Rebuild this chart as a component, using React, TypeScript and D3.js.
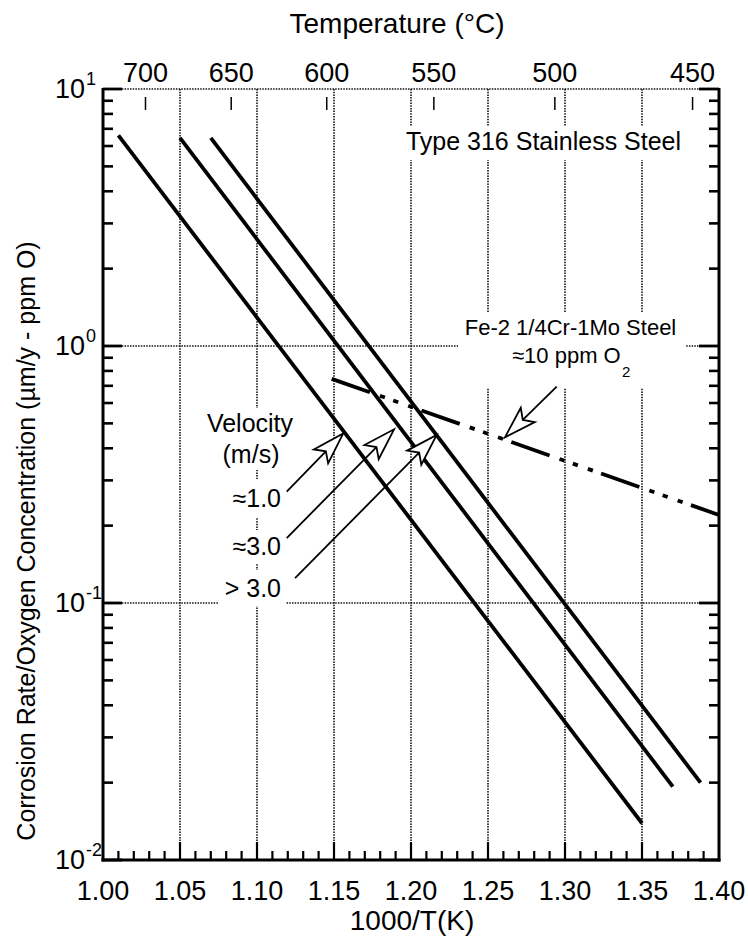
import React from 'react';
import * as d3 from 'd3';

// ---- data ----
const xTickValues = [1.0, 1.05, 1.1, 1.15, 1.2, 1.25, 1.3, 1.35, 1.4];
const xTickLabels = ['1.00', '1.05', '1.10', '1.15', '1.20', '1.25', '1.30', '1.35', '1.40'];
const yDecades = [0.01, 0.1, 1, 10];
const yExponents = ['-2', '-1', '0', '1'];
const tempTicksC = [700, 650, 600, 550, 500, 450];

const seriesNames = ['≈1.0', '≈3.0', '> 3.0'];
const seriesX0 = [1.01, 1.05, 1.07];
const seriesY0 = [6.6, 6.45, 6.45];
const seriesX1 = [1.35, 1.37, 1.388];
const seriesY1 = [0.0139, 0.0193, 0.02];

const feX = [1.1485, 1.4];
const feY = [0.745, 0.22];

const arrowTipX = [1.156, 1.189, 1.2167];
const arrowTipY = [0.457, 0.474, 0.451];
const arrowTailX = [1.1193, 1.1193, 1.1247];
const arrowTailY = [0.271, 0.179, 0.125];
const feArrowTip = [1.261, 0.441];
const feArrowTail = [1.2946, 0.695];

const FONT = "'Liberation Sans', Arial, Helvetica, sans-serif";

const W = 748;
const H = 942;
const L = 103, R = 719, T = 89, B = 860;

export default function App() {
  const x = d3.scaleLinear().domain([1.0, 1.4]).range([L, R]);
  const y = d3.scaleLog().domain([0.01, 10]).range([B, T]);

  const minorY: number[] = [];
  for (let e = -2; e < 1; e++) {
    for (let m = 2; m <= 9; m++) minorY.push(m * Math.pow(10, e));
  }
  const minorX: number[] = d3.range(1, 40).map((i) => 1 + i * 0.01).filter((v) => Math.abs(v * 20 - Math.round(v * 20)) > 1e-6);
  const gridX = xTickValues.slice(1, -1);
  const gridY = [1, 0.1, 10];

  const line = d3.line<[number, number]>().x((d) => x(d[0])).y((d) => y(d[1]));

  const arrow = (tx: number, ty: number, sx: number, sy: number, key: string) => {
    const dx = tx - sx, dy = ty - sy;
    const len = Math.hypot(dx, dy);
    const ux = dx / len, uy = dy / len;
    const nx = -uy, ny = ux;
    const hl = 32, hw = 10, notch = 25;
    const b1 = [tx - ux * hl + nx * hw, ty - uy * hl + ny * hw];
    const b2 = [tx - ux * hl - nx * hw, ty - uy * hl - ny * hw];
    const nt = [tx - ux * notch, ty - uy * notch];
    return (
      <g key={key}>
        <line x1={sx} y1={sy} x2={nt[0]} y2={nt[1]} stroke="#000" strokeWidth={1.8} />
        <path d={`M${tx},${ty}L${b1[0]},${b1[1]}L${nt[0]},${nt[1]}L${b2[0]},${b2[1]}Z`} fill="#fff" stroke="#000" strokeWidth={1.8} strokeLinejoin="miter" />
      </g>
    );
  };

  const gridStyle = { stroke: '#111', strokeWidth: 1.6, strokeDasharray: '1.5,1.2' };

  return (
    <svg width={W} height={H} style={{ position: 'absolute', left: 0, top: 0, background: '#fff' }} fontFamily={FONT}>
      <rect x={0} y={0} width={W} height={H} fill="#fff" />
      {/* grid */}
      {gridX.map((v) => (
        <line key={'gx' + v} x1={x(v)} x2={x(v)} y1={T} y2={B} {...gridStyle} />
      ))}
      {gridY.map((v) => (
        <line key={'gy' + v} x1={L} x2={R} y1={y(v)} y2={y(v)} {...gridStyle} />
      ))}

      {/* white label backgrounds */}
      <rect x={400} y={126} width={288} height={34} fill="#fff" />
      <rect x={458} y={313} width={227} height={75} fill="#fff" />
      <rect x={200} y={408} width={98} height={62} fill="#fff" />
      <rect x={222} y={479} width={64} height={38} fill="#fff" />
      <rect x={222} y={530} width={64} height={33} fill="#fff" />
      <rect x={218} y={570} width={68} height={36} fill="#fff" />

      {/* axes */}
      <line x1={L} x2={L} y1={T - 1} y2={B + 1.5} stroke="#000" strokeWidth={3} />
      <line x1={R} x2={R} y1={T - 1} y2={B + 1.5} stroke="#000" strokeWidth={3} />
      <line x1={L - 1.5} x2={R + 1.5} y1={B} y2={B} stroke="#000" strokeWidth={3} />

      {/* y ticks */}
      {yDecades.map((v) => (
        <g key={'yt' + v}>
          <line x1={L} x2={L + 19} y1={y(v)} y2={y(v)} stroke="#000" strokeWidth={2.8} />
          <line x1={R} x2={R - 20} y1={y(v)} y2={y(v)} stroke="#000" strokeWidth={2.8} />
        </g>
      ))}
      {minorY.map((v) => (
        <g key={'ym' + v}>
          <line x1={L} x2={L + 10} y1={y(v)} y2={y(v)} stroke="#000" strokeWidth={2.6} />
          <line x1={R} x2={R - 10} y1={y(v)} y2={y(v)} stroke="#000" strokeWidth={2.6} />
        </g>
      ))}
      {/* x ticks */}
      {gridX.map((v) => (
        <line key={'xt' + v} x1={x(v)} x2={x(v)} y1={B} y2={B - 18} stroke="#000" strokeWidth={2.2} />
      ))}
      {minorX.map((v) => (
        <line key={'xm' + v} x1={x(v)} x2={x(v)} y1={B} y2={B - 9} stroke="#000" strokeWidth={2.2} />
      ))}

      {/* temperature ticks */}
      {tempTicksC.map((t) => {
        const xv = x(1000 / (t + 273.15));
        return (
          <g key={'tc' + t}>
            <line x1={xv} x2={xv} y1={97} y2={110} stroke="#000" strokeWidth={1.5} />
            <text x={xv} y={82} fontSize={27} textAnchor="middle">{t}</text>
          </g>
        );
      })}

      {/* x tick labels */}
      {xTickValues.map((v, i) => (
        <text key={'xl' + v} x={x(v)} y={900} fontSize={27} textAnchor="middle">{xTickLabels[i]}</text>
      ))}
      {/* y tick labels */}
      {yDecades.map((v, i) => (
        <g key={'yl' + v}>
          <text x={85} y={y(v) + 9} fontSize={27} textAnchor="end">10</text>
          <text x={86} y={y(v) - 4} fontSize={18} textAnchor="start">{yExponents[i]}</text>
        </g>
      ))}

      {/* axis titles */}
      <text x={397} y={33} fontSize={28} textAnchor="middle">Temperature (°C)</text>
      <text x={412} y={930} fontSize={28} textAnchor="middle">1000/T(K)</text>
      <text transform={`translate(35,541) rotate(-90)`} fontSize={25} textAnchor="middle">
        Corrosion Rate/Oxygen Concentration (µm/y - ppm O)
      </text>

      {/* velocity lines */}
      {seriesNames.map((n, i) => (
        <path
          key={'s' + i}
          d={line([[seriesX0[i], seriesY0[i]], [seriesX1[i], seriesY1[i]]]) || ''}
          stroke="#000"
          strokeWidth={3.8}
          fill="none"
        />
      ))}

      {/* Fe line */}
      <path
        d={line([[feX[0], feY[0]], [feX[1], feY[1]]]) || ''}
        stroke="#000"
        strokeWidth={3.8}
        fill="none"
        strokeDasharray="40.5,10.6,5.3,8.8,5.3,10.6,5.3,8.8"
      />

      {/* arrows */}
      {seriesNames.map((n, i) => arrow(x(arrowTipX[i]), y(arrowTipY[i]), x(arrowTailX[i]), y(arrowTailY[i]), 'a' + i))}
      {arrow(x(feArrowTip[0]), y(feArrowTip[1]), x(feArrowTail[0]), y(feArrowTail[1]), 'afe')}

      {/* annotations */}
      <text x={543.5} y={150} fontSize={25} textAnchor="middle">Type 316 Stainless Steel</text>
      <text x={570.5} y={335} fontSize={22} textAnchor="middle">Fe-2 1/4Cr-1Mo Steel</text>
      <text x={512} y={363} fontSize={22}>
        ≈10 ppm O
      </text>
      <text x={622} y={377} fontSize={15}>2</text>

      <text x={250} y={432} fontSize={25} textAnchor="middle">Velocity</text>
      <text x={251} y={463} fontSize={25} textAnchor="middle">(m/s)</text>
      <text x={281} y={507} fontSize={25} textAnchor="end">{seriesNames[0]}</text>
      <text x={281} y={555} fontSize={25} textAnchor="end">{seriesNames[1]}</text>
      <text x={281} y={597} fontSize={25} textAnchor="end">{seriesNames[2]}</text>
    </svg>
  );
}
